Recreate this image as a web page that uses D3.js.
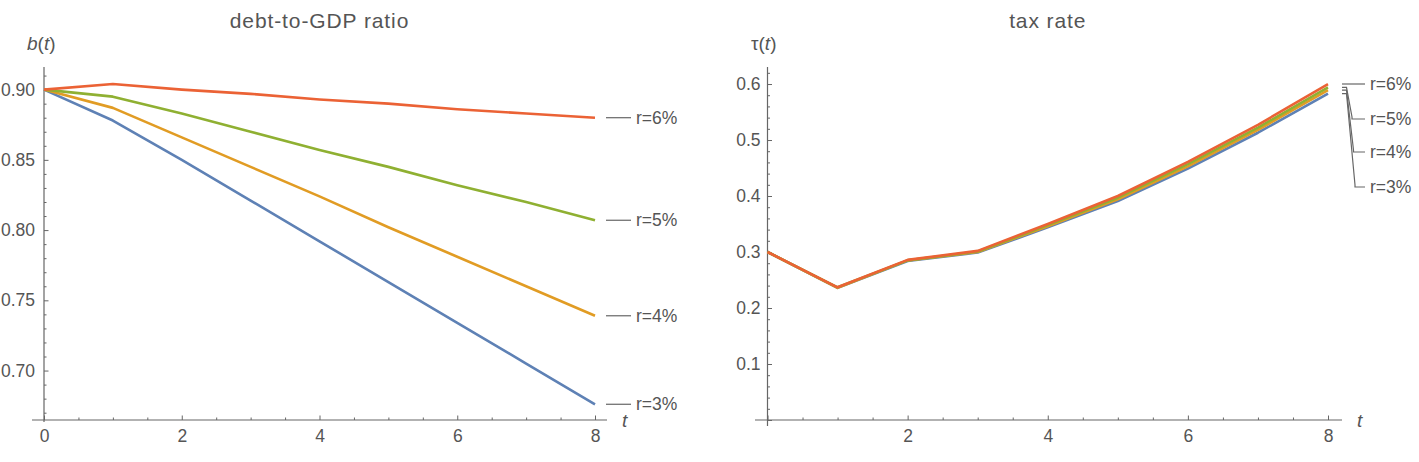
<!DOCTYPE html>
<html>
<head>
<meta charset="utf-8">
<script src="https://cdn.jsdelivr.net/npm/d3@7"></script>
<style>
  html, body { margin: 0; padding: 0; background: #fff; }
  svg { display: block; font-family: "Liberation Sans", Arial, sans-serif; }
</style>
</head>
<body>
<svg id="chart" width="1419" height="462"></svg>
<script>
// ---------- data ----------
const periods = [0, 1, 2, 3, 4, 5, 6, 7, 8];
const rateLabels = ["r=3%", "r=4%", "r=5%", "r=6%"];

const debtR3 = [0.900, 0.878, 0.850, 0.821, 0.792, 0.763, 0.734, 0.705, 0.676];
const debtR4 = [0.900, 0.887, 0.866, 0.845, 0.824, 0.802, 0.781, 0.760, 0.739];
const debtR5 = [0.900, 0.895, 0.883, 0.870, 0.857, 0.845, 0.832, 0.820, 0.807];
const debtR6 = [0.900, 0.904, 0.900, 0.897, 0.893, 0.890, 0.886, 0.883, 0.880];

const taxR3 = [0.300, 0.236, 0.284, 0.299, 0.344, 0.391, 0.449, 0.513, 0.583];
const taxR4 = [0.300, 0.236, 0.285, 0.300, 0.346, 0.394, 0.453, 0.518, 0.589];
const taxR5 = [0.300, 0.237, 0.285, 0.301, 0.348, 0.397, 0.457, 0.522, 0.594];
const taxR6 = [0.300, 0.237, 0.286, 0.302, 0.350, 0.400, 0.461, 0.527, 0.600];

const leftXTicks = [0, 2, 4, 6, 8];
const leftYTicks = [0.70, 0.75, 0.80, 0.85, 0.90];
const rightXTicks = [2, 4, 6, 8];
const rightYTicks = [0.1, 0.2, 0.3, 0.4, 0.5, 0.6];

const leftTitle = "debt-to-GDP ratio";
const rightTitle = "tax rate";

// ---------- style ----------
const colors = ["#5E81B5", "#E19C24", "#8FB032", "#EB6235"];
const axisColor = "#666";
const textColor = "#555";
const tickFont = 17.5;

const svg = d3.select("#chart");

function panel(opts) {
  const g = svg.append("g");
  const x = d3.scaleLinear().domain([0, 8]).range(opts.xRange);
  const y = d3.scaleLinear().domain(opts.yDomain).range(opts.yRange);
  const x0 = x(0), yBase = opts.yRange[0];

  const yMinorAxis = d3.axisLeft(y).tickValues(opts.yMinor).tickSizeInner(-2.5).tickSizeOuter(0).tickFormat("");
  const xMinorAxis = d3.axisBottom(x).tickValues(opts.xMinor).tickSizeInner(-2.5).tickSizeOuter(0).tickFormat("");
  const yAxis = d3.axisLeft(y).tickValues(opts.yTicks).tickSizeInner(-4.5).tickSizeOuter(0)
    .tickPadding(opts.yPad).tickFormat(opts.yFmt);
  const xAxis = d3.axisBottom(x).tickValues(opts.xTicks).tickSizeInner(-4.5).tickSizeOuter(0)
    .tickPadding(10).tickFormat(opts.xFmt);

  [yMinorAxis, yAxis].forEach(a => {
    g.append("g").attr("transform", `translate(${x0},0)`).call(a)
      .call(s => s.select(".domain").remove());
  });
  [xMinorAxis, xAxis].forEach(a => {
    g.append("g").attr("transform", `translate(0,${yBase})`).call(a)
      .call(s => s.select(".domain").remove());
  });
  g.selectAll(".tick line").attr("stroke", axisColor).attr("stroke-width", 1);
  g.selectAll(".tick text").attr("fill", textColor).attr("font-size", tickFont)
    .attr("font-family", "Liberation Sans, Arial, sans-serif");

  // axis lines
  g.append("line").attr("x1", x0).attr("x2", x0).attr("y1", opts.yTop).attr("y2", yBase + opts.yBelow)
    .attr("stroke", axisColor).attr("stroke-width", 1.2);
  g.append("line").attr("x1", opts.xLeft).attr("x2", opts.xRight).attr("y1", yBase).attr("y2", yBase)
    .attr("stroke", axisColor).attr("stroke-width", 1.2);

  // series
  const line = d3.line().x((d, i) => x(periods[i])).y(d => y(d));
  opts.series.forEach((s, i) => {
    g.append("path").datum(s).attr("d", line).attr("fill", "none")
      .attr("stroke", colors[i]).attr("stroke-width", 2.6).attr("stroke-linejoin", "round");
  });

  // title
  g.append("text").attr("x", (opts.xRange[0] + opts.xRange[1]) / 2).attr("y", 28)
    .attr("text-anchor", "middle").attr("fill", textColor).attr("font-size", 21)
    .attr("letter-spacing", 0.9).text(opts.title);

  // x axis label
  g.append("text").attr("x", opts.xRight + 15).attr("y", yBase + 7).attr("fill", textColor)
    .attr("font-size", 19).attr("font-style", "italic").text("t");

  return { g, x, y };
}

const halfSteps = d3.range(1, 17).filter(k => k % 4 !== 0).map(k => k / 2);

// ---------- left panel ----------
const leftSeries = [debtR3, debtR4, debtR5, debtR6];
const L = panel({
  xRange: [44, 595], yDomain: [0.6648, 0.9161], yRange: [420, 67],
  yTop: 67, yBelow: 2, xLeft: 32, xRight: 607,
  xTicks: leftXTicks, yTicks: leftYTicks,
  xMinor: halfSteps,
  yMinor: d3.range(67, 92).filter(k => k % 5 !== 0).map(k => k / 100),
  xFmt: d3.format("d"), yFmt: d3.format(".2f"), yPad: 9,
  series: leftSeries, title: leftTitle
});

const lb = L.g.append("text").attr("x", 27).attr("y", 50).attr("fill", textColor).attr("font-size", 19);
lb.append("tspan").attr("font-style", "italic").text("b");
lb.append("tspan").text("(");
lb.append("tspan").attr("font-style", "italic").text("t");
lb.append("tspan").text(")");

leftSeries.forEach((s, i) => {
  const yy = L.y(s[s.length - 1]);
  L.g.append("line").attr("x1", 606).attr("x2", 631).attr("y1", yy).attr("y2", yy)
    .attr("stroke", axisColor).attr("stroke-width", 1.2);
  L.g.append("text").attr("x", 636).attr("y", yy).attr("dy", "0.35em")
    .attr("fill", textColor).attr("font-size", tickFont).text(rateLabels[i]);
});

// ---------- right panel ----------
const rightSeries = [taxR3, taxR4, taxR5, taxR6];
const R = panel({
  xRange: [767.5, 1328], yDomain: [0, 0.6304], yRange: [420, 67],
  yTop: 67, yBelow: 6, xLeft: 755, xRight: 1342,
  xTicks: [0].concat(rightXTicks), yTicks: [0].concat(rightYTicks),
  xMinor: halfSteps,
  yMinor: d3.range(1, 32).filter(k => k % 5 !== 0).map(k => k / 50),
  xFmt: d => (d === 0 ? "" : d3.format("d")(d)),
  yFmt: d => (d === 0 ? "" : d3.format(".1f")(d)), yPad: 7,
  series: rightSeries, title: rightTitle
});

const rl = R.g.append("text").attr("x", 751).attr("y", 50).attr("fill", textColor).attr("font-size", 19);
rl.append("tspan").text("\u03C4(");
rl.append("tspan").attr("font-style", "italic").text("t");
rl.append("tspan").text(")");

// right callouts (label vertical slots are layout, not data)
const rightLabelY = [187, 152, 119, 84];
const bendX = [1355, 1353.5, 1352, null];
rightSeries.forEach((s, i) => {
  const yy = R.y(s[s.length - 1]);
  let d;
  if (i === 3) {
    d = `M1342,${rightLabelY[i]}H1365`;
  } else {
    d = `M1342,${yy}H1346.5L${bendX[i]},${rightLabelY[i] - 2}V${rightLabelY[i]}H1365`;
  }
  R.g.append("path").attr("d", d).attr("fill", "none").attr("stroke", axisColor).attr("stroke-width", 1.2);
  R.g.append("text").attr("x", 1370).attr("y", rightLabelY[i]).attr("dy", "0.35em")
    .attr("fill", textColor).attr("font-size", tickFont).text(rateLabels[i]);
});
</script>
</body>
</html>
